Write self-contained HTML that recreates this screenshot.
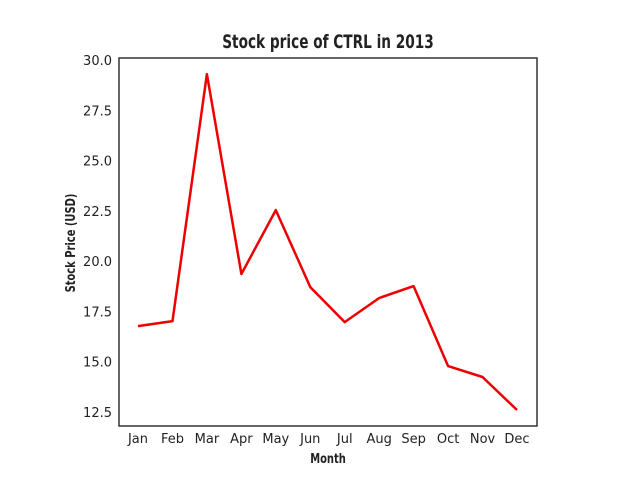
<!DOCTYPE html>
<html><head><meta charset="utf-8"><style>
html,body{margin:0;padding:0;background:#fff;width:640px;height:480px;overflow:hidden}
svg text{font-family:"DejaVu Sans","Liberation Sans",sans-serif}
.t{font-family:"Liberation Sans Narrow","DejaVu Sans Condensed","Liberation Sans",sans-serif;font-weight:bold}
</style></head><body>
<svg id="chart" width="640" height="480" xmlns="http://www.w3.org/2000/svg">
<rect x="0" y="0" width="640" height="480" fill="#fff"/>
<text class="t" x="328" y="48" text-anchor="middle" font-size="19" fill="#222" transform="translate(328 0) scale(0.8 1) translate(-328 0)">Stock price of CTRL in 2013</text>
<g id="yt"></g>
<g id="xt"></g>
<path id="line" fill="none" stroke="#ee0000" stroke-width="2.5" stroke-linejoin="round"/>
<rect x="119" y="58" width="418" height="368" fill="none" stroke="#333" stroke-width="1.5"/>
<text class="t" x="328" y="463" text-anchor="middle" font-size="13" fill="#222" transform="translate(328 0) scale(0.85 1) translate(-328 0)">Month</text>
<text class="t" x="0" y="0" text-anchor="middle" font-size="13" fill="#222" transform="translate(75 243) rotate(-90) scale(0.85 1)">Stock Price (USD)</text>
</svg>
<script>
const months=["Jan","Feb","Mar","Apr","May","Jun","Jul","Aug","Sep","Oct","Nov","Dec"];
const prices=[16.77,17.02,29.3,19.36,22.54,18.71,16.97,18.17,18.76,14.78,14.24,12.6];
const yTicks=[12.5,15.0,17.5,20.0,22.5,25.0,27.5,30.0];
const NS="http://www.w3.org/2000/svg";
function xs(i){return 138+i*(517-138)/11;}
function ys(v){return 60+(30-v)*(412-60)/17.5;}
const yt=document.getElementById('yt'),xt=document.getElementById('xt');
yTicks.forEach(v=>{const t=document.createElementNS(NS,'text');


t.setAttribute('x',112);t.setAttribute('y',ys(v)+5);t.setAttribute('text-anchor','end');t.setAttribute('font-size','13');t.setAttribute('fill','#222');t.textContent=v.toFixed(1);yt.appendChild(t);});
months.forEach((m,i)=>{const t=document.createElementNS(NS,'text');


t.setAttribute('x',xs(i));t.setAttribute('y',443);t.setAttribute('text-anchor','middle');t.setAttribute('font-size','13');t.setAttribute('fill','#222');t.textContent=m;xt.appendChild(t);});
document.getElementById('line').setAttribute('d',prices.map((p,i)=>(i?'L':'M')+xs(i).toFixed(1)+' '+ys(p).toFixed(1)).join(' '));
</script>
</body></html>
